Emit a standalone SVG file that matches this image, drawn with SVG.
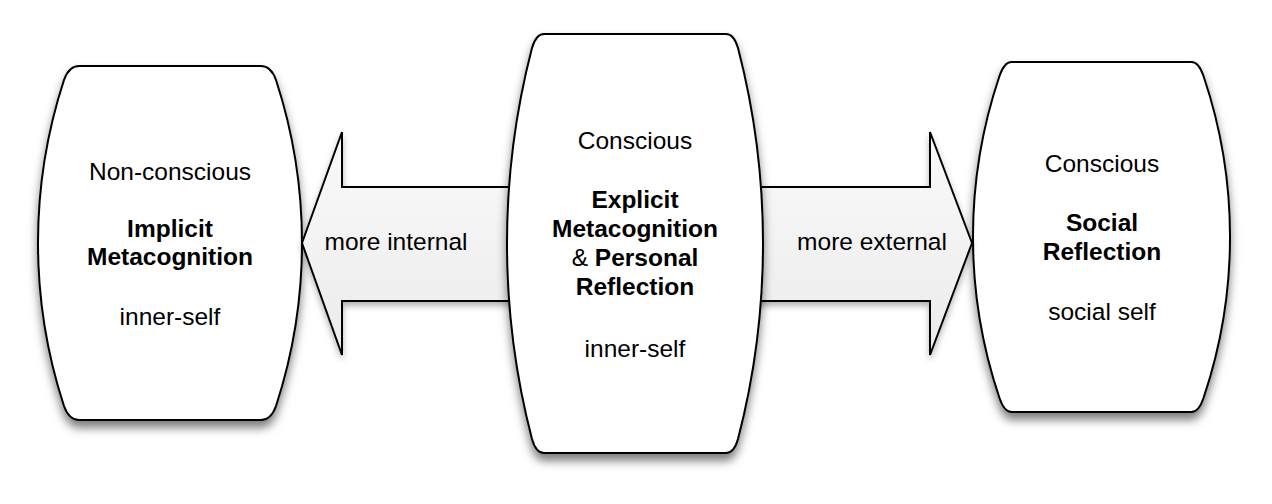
<svg xmlns="http://www.w3.org/2000/svg" width="1272" height="504" viewBox="0 0 1272 504">
<defs>
<filter id="shadow" x="-20%" y="-20%" width="140%" height="140%">
<feDropShadow dx="0" dy="7" stdDeviation="5" flood-color="#000" flood-opacity="0.5"/>
</filter>
<filter id="ashadow" x="-20%" y="-20%" width="140%" height="140%">
<feDropShadow dx="0" dy="4" stdDeviation="3" flood-color="#000" flood-opacity="0.3"/>
</filter>
<linearGradient id="agrad" x1="0" y1="0" x2="0" y2="1">
<stop offset="0" stop-color="#fafafa"/>
<stop offset="1" stop-color="#ebebeb"/>
</linearGradient>
</defs>
<style>
.node{fill:#fff;stroke:#000;stroke-width:2;filter:url(#shadow)}
.arrow{fill:url(#agrad);stroke:#000;stroke-width:2;stroke-linejoin:miter;filter:url(#ashadow)}
text{font-family:"Liberation Sans",Arial,Helvetica,sans-serif;font-size:24.5px;fill:#000;text-anchor:middle}
.b{font-weight:bold}
</style>
<rect width="1272" height="504" fill="#fff"/>
<g id="node-implicit">
<path class="node" d="M 79,66 L 261,66 Q 271,66 276,80 A 524 524 0 0 1 276,406 Q 271,420 261,420 L 79,420 Q 69,420 64,406 A 524 524 0 0 1 64,80 Q 69,66 79,66 Z"/>
<text x="170" y="180">Non-conscious</text>
<text class="b" x="170" y="237">Implicit</text>
<text class="b" x="170" y="265">Metacognition</text>
<text x="170" y="325">inner-self</text>
</g>
<g id="node-social">
<path class="node" d="M 1011.5,62 L 1191.5,62 Q 1198.8,62 1203.5,76 A 502 502 0 0 1 1203.5,398 Q 1198.8,412 1191.5,412 L 1011.5,412 Q 1004.2,412 999.5,398 A 502 502 0 0 1 999.5,76 Q 1004.2,62 1011.5,62 Z"/>
<text x="1102" y="172">Conscious</text>
<text class="b" x="1102" y="231">Social</text>
<text class="b" x="1102" y="260">Reflection</text>
<text x="1102" y="320">social self</text>
</g>
<g id="connectors">
<g id="arrow-internal">
<polygon class="arrow" points="302,243 342,132 342,187 560,187 560,301 342,301 342,355"/>
<text x="396" y="250">more internal</text>
</g>
<g id="arrow-external">
<polygon class="arrow" points="972,243 930,132 930,187 710,187 710,301 930,301 930,355"/>
<text x="872" y="250">more external</text>
</g>
</g>
<g id="node-explicit">
<path class="node" d="M 544,34 L 726,34 Q 734,34 738,48 A 777 777 0 0 1 738,439 Q 734,453 726,453 L 544,453 Q 536,453 532,439 A 777 777 0 0 1 532,48 Q 536,34 544,34 Z"/>
<text x="635" y="149">Conscious</text>
<text class="b" x="635" y="208">Explicit</text>
<text class="b" x="635" y="237">Metacognition</text>
<text x="635" y="266"><tspan>&amp; </tspan><tspan class="b">Personal</tspan></text>
<text class="b" x="635" y="295">Reflection</text>
<text x="635" y="357">inner-self</text>
</g>
</svg>
